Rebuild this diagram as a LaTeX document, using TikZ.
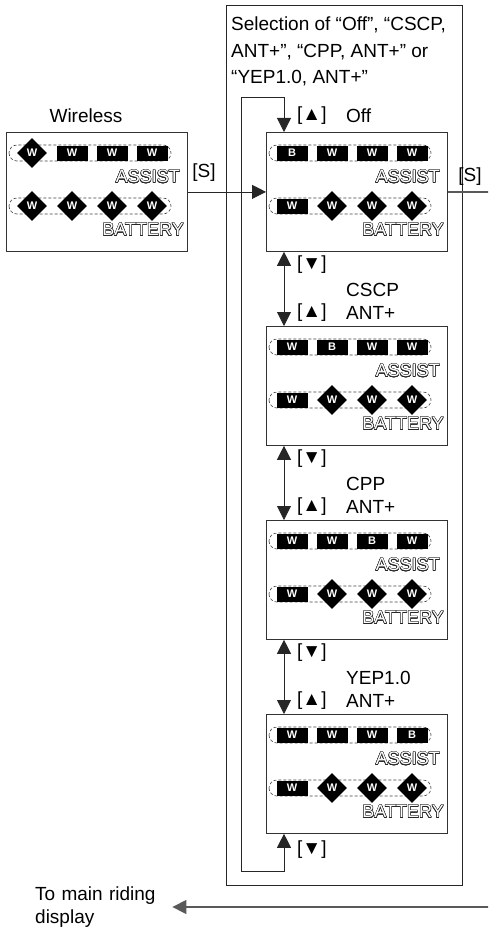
\documentclass[tikz,border=0pt]{standalone}
\usepackage{fontspec}
\setmainfont{Liberation Sans}
\usepackage{contour}
\contourlength{0.45pt}
\usetikzlibrary{arrows.meta,shapes.geometric,positioning,calc}

% one row of segments: #1 panel, #2 row name, #3 offset from top, #4 segments
\newcommand{\lcdrow}[4]{%
  \draw[pill] ($(#1.north west)+(3,#3-8)$) rectangle ($(#1.north west)+(165,#3+8)$);
  \foreach \k/\t/\l in {#4}{
    \node[seg\t] (#1#2\k) at ($(#1.north west)+(-14+40*\k,#3)$) {\l};
  }%
}
\newcommand{\lcdtext}[1]{%
  \node[lcdlbl] (#1as) at ($(#1.north west)+(174,45)$) {\contour{black!85}{ASSIST}};
  \node[lcdlbl] (#1bt) at ($(#1.north west)+(178,98)$) {\contour{black!85}{BATTERY}};
}

\begin{document}
\begin{tikzpicture}[x=1pt, y=-1pt,
    lcd/.style={draw=black!80, line width=0.8pt, minimum width=181pt, minimum height=119pt, inner sep=0pt, anchor=north west},
    segb/.style={fill=black, text=white, font=\bfseries\fontsize{11}{11}\selectfont, minimum width=31pt, minimum height=15pt, inner sep=0pt},
    segd/.style={diamond, fill=black, text=white, font=\bfseries\fontsize{11}{11}\selectfont, minimum width=30pt, minimum height=30pt, inner sep=0pt},
    pill/.style={draw=black!75, dash pattern=on 3pt off 2pt, rounded corners=8pt, line width=0.6pt},
    lcdlbl/.style={anchor=east, text=white, inner sep=0pt, font=\fontsize{18}{18}\selectfont},
    lbl/.style={anchor=west, inner sep=0pt, font=\fontsize{19}{24}\selectfont},
    arr/.style={-{Triangle[length=14pt,width=14pt]}, line width=0.8pt, draw=black!85},
    dbl/.style={{Triangle[length=14pt,width=14pt]}-{Triangle[length=14pt,width=14pt]}, line width=0.8pt, draw=black!85}
]
\clip (0,0) rectangle (488,931);
\useasboundingbox (0,0) rectangle (488,931);

\node[draw=black!85, line width=0.8pt, minimum width=236pt, minimum height=880pt, inner sep=0pt, anchor=north west] (selbox) at (226,5) {};
\node[lbl, anchor=north west, align=left, font=\fontsize{19}{26.5}\selectfont] (title) at ($(selbox.north west)+(5,12)$)
  {Selection of “Off”, “CSCP,\\ANT+”, “CPP, ANT+” or\\“YEP1.0, ANT+”};

% panels
\node[lcd] (wl) at (6,132) {};
\node[lbl, anchor=center] (wltit) at (86,116) {Wireless};
\foreach \i in {1,...,4}
  \node[lcd] (d\i) at (266,132+194*\i-194) {};

\lcdrow{wl}{a}{21}{1/d/W,2/b/W,3/b/W,4/b/W}
\lcdrow{wl}{b}{74}{1/d/W,2/d/W,3/d/W,4/d/W}
\lcdrow{d1}{a}{21}{1/b/B,2/b/W,3/b/W,4/b/W}
\lcdrow{d1}{b}{74}{1/b/W,2/d/W,3/d/W,4/d/W}
\lcdrow{d2}{a}{21}{1/b/W,2/b/B,3/b/W,4/b/W}
\lcdrow{d2}{b}{74}{1/b/W,2/d/W,3/d/W,4/d/W}
\lcdrow{d3}{a}{21}{1/b/W,2/b/W,3/b/B,4/b/W}
\lcdrow{d3}{b}{74}{1/b/W,2/d/W,3/d/W,4/d/W}
\lcdrow{d4}{a}{21}{1/b/W,2/b/W,3/b/W,4/b/B}
\lcdrow{d4}{b}{74}{1/b/W,2/d/W,3/d/W,4/d/W}
\foreach \p in {wl,d1,d2,d3,d4}{\lcdtext{\p}}

% labels
\node[lbl] (d1up) at ($(d1.north west)+(31,-16)$) {[▲]};
\node[lbl] (d1nm) at ($(d1.north west)+(80,-16)$) {Off};
\foreach \a/\b/\n in {d1/d2/CSCP, d2/d3/CPP, d3/d4/YEP1.0}{
  \node[lbl] (\a dn) at ($(\a.south west)+(31,13)$) {[▼]};
  \node[lbl] (\b nm) at ($(\a.south west)+(80,38)$) {\n};
  \node[lbl] (\b up) at ($(\b.north west)+(31,-13)$) {[▲]};
  \node[lbl] (\b ant) at ($(\b.north west)+(80,-13)$) {ANT+};
}
\node[lbl] (d4dn) at ($(d4.south west)+(31,16)$) {[▼]};
\node[lbl, anchor=center] (sl) at (204,173) {[S]};
\node[lbl, anchor=center] (sr) at (470,177) {[S]};
\node[lbl, align=left, text width=134pt, inner xsep=3pt, font=\fontsize{19}{23.5}\selectfont] (tomain) at (32,907) {To main riding\\display};

% connectors
\coordinate (ax) at ($(d1.north west)+(18,0)$);
\coordinate (lpt) at (241,97);
\coordinate (lpb) at (241,871);
\coordinate (rt) at (500,0);
\draw[dbl] (ax |- d4.south) -- (ax |- lpb) -- (lpb) -- (lpt) -- (ax |- lpt) -- (ax |- d1.north);
\foreach \a/\b in {d1/d2, d2/d3, d3/d4}
  \draw[dbl] (ax |- \a.south) -- (ax |- \b.north);
\draw[arr] (wl) -- (d1);
\draw[arr, line width=1.3pt, draw=black!65] (d1) -- (d1 -| rt) |- (tomain);
\end{tikzpicture}
\end{document}
